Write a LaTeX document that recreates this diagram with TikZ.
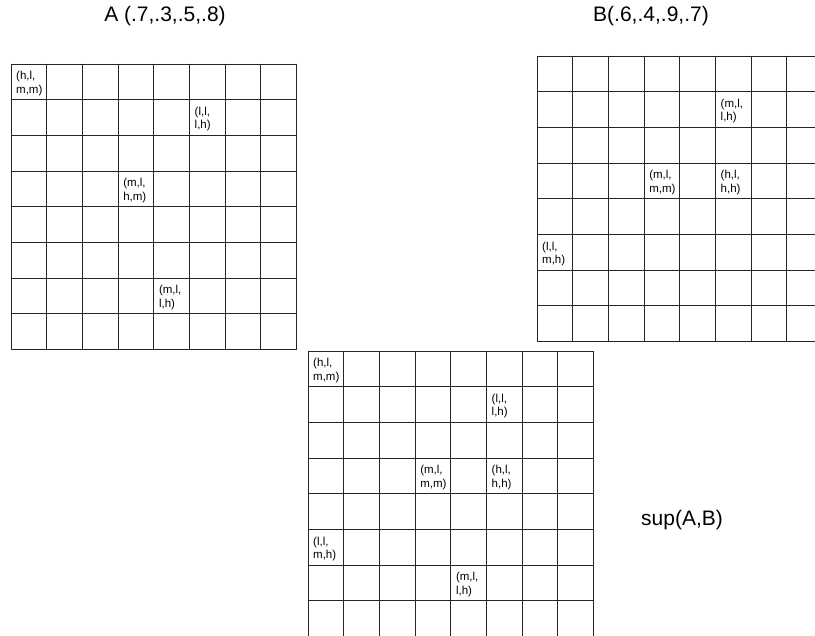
\documentclass[tikz,border=0pt]{standalone}
\usepackage{fontspec}
\setmainfont{Liberation Sans}
\def\cw{35.7}
\begin{document}
\begin{tikzpicture}[x=1pt, y=-1pt,
    gridline/.style={black!85, line width=0.9pt},
    celltxt/.style={anchor=north west, inner sep=0pt, align=left,
                    font=\fontsize{11.5}{13.5}\selectfont},
    title/.style={font=\fontsize{21}{23}\selectfont}]
    \clip (0,0) rectangle (815,636);

    % grid A
    \begin{scope}[shift={(11,64)}]
        \node[title] (tA) at (154, -48) {A (.7,.3,.5,.8)};
        \foreach \i in {0,...,8} {
            \draw[gridline] (\i*\cw, 0) -- (\i*\cw, 8*\cw);
            \draw[gridline] (0, \i*\cw) -- (8*\cw, \i*\cw);
        }
        \node[celltxt] (a00) at (0*\cw+5, 0*\cw+7) {(h,l,\\m,m)};
        \node[celltxt] (a51) at (5*\cw+5, 1*\cw+7) {(l,l,\\l,h)};
        \node[celltxt] (a33) at (3*\cw+5, 3*\cw+7) {(m,l,\\h,m)};
        \node[celltxt] (a46) at (4*\cw+5, 6*\cw+7) {(m,l,\\l,h)};
    \end{scope}

    % grid B
    \begin{scope}[shift={(537,56)}]
        \node[title] (tB) at (114, -40) {B(.6,.4,.9,.7)};
        \foreach \i in {0,...,8} {
            \draw[gridline] (\i*\cw, 0) -- (\i*\cw, 8*\cw);
            \draw[gridline] (0, \i*\cw) -- (8*\cw, \i*\cw);
        }
        \node[celltxt] (b51) at (5*\cw+5, 1*\cw+7) {(m,l,\\l,h)};
        \node[celltxt] (b33) at (3*\cw+5, 3*\cw+7) {(m,l,\\m,m)};
        \node[celltxt] (b53) at (5*\cw+5, 3*\cw+7) {(h,l,\\h,h)};
        \node[celltxt] (b05) at (0*\cw+5, 5*\cw+7) {(l,l,\\m,h)};
    \end{scope}

    % grid sup(A,B)
    \begin{scope}[shift={(308,351)}]
        \node[title] (tC) at (374, 169) {sup(A,B)};
        \foreach \i in {0,...,8} {
            \draw[gridline] (\i*\cw, 0) -- (\i*\cw, 8*\cw);
            \draw[gridline] (0, \i*\cw) -- (8*\cw, \i*\cw);
        }
        \node[celltxt] (c00) at (0*\cw+5, 0*\cw+7) {(h,l,\\m,m)};
        \node[celltxt] (c51) at (5*\cw+5, 1*\cw+7) {(l,l,\\l,h)};
        \node[celltxt] (c33) at (3*\cw+5, 3*\cw+7) {(m,l,\\m,m)};
        \node[celltxt] (c53) at (5*\cw+5, 3*\cw+7) {(h,l,\\h,h)};
        \node[celltxt] (c05) at (0*\cw+5, 5*\cw+7) {(l,l,\\m,h)};
        \node[celltxt] (c46) at (4*\cw+5, 6*\cw+7) {(m,l,\\l,h)};
    \end{scope}
\end{tikzpicture}
\end{document}
